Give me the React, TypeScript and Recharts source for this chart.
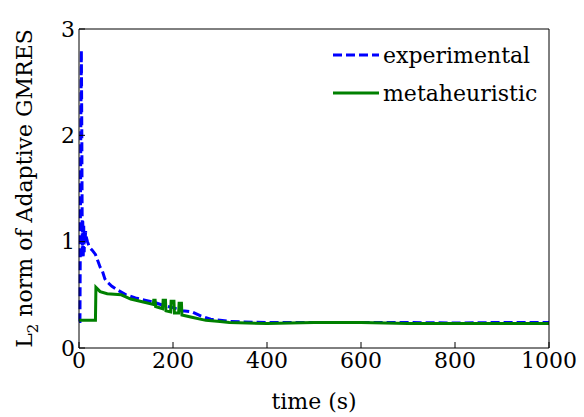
import { LineChart, Line, XAxis, YAxis } from 'recharts'

const expT = [0, 2, 3, 4, 5, 6, 7, 8, 9, 10, 11, 12, 13, 14, 15, 18, 22, 28, 35, 40, 45, 50, 55, 60, 70, 80, 100, 120, 140, 160, 180, 200, 220, 240, 260, 280, 300, 320, 350, 400, 500, 600, 700, 800, 900, 1000]
const expV = [0.25, 0.25, 1.2, 2.2, 2.8, 2.0, 0.9, 1.2, 0.85, 1.15, 0.9, 1.1, 1.0, 1.1, 1.05, 1.0, 0.95, 0.92, 0.88, 0.82, 0.76, 0.72, 0.65, 0.62, 0.58, 0.55, 0.5, 0.47, 0.45, 0.43, 0.4, 0.38, 0.35, 0.34, 0.3, 0.27, 0.26, 0.25, 0.245, 0.24, 0.24, 0.24, 0.24, 0.235, 0.24, 0.24]

const metT = [0, 35, 36, 45, 60, 90, 110, 130, 158, 159, 162, 163, 178, 179, 184, 185, 195, 196, 202, 203, 212, 213, 218, 219, 240, 270, 300, 320, 400, 500, 600, 700, 800, 1000]
const metV = [0.26, 0.26, 0.57, 0.53, 0.51, 0.5, 0.46, 0.44, 0.41, 0.45, 0.45, 0.39, 0.37, 0.45, 0.45, 0.35, 0.34, 0.44, 0.44, 0.33, 0.33, 0.42, 0.42, 0.31, 0.29, 0.26, 0.25, 0.24, 0.23, 0.24, 0.24, 0.23, 0.23, 0.23]

const xTicks = [0, 200, 400, 600, 800, 1000]
const yTicks = [0, 1, 2, 3]

const experimental = expT.map((t, i) => ({ t, v: expV[i] }))
const metaheuristic = metT.map((t, i) => ({ t, v: metV[i] }))

const FAMILY = "'DejaVu Serif', serif"
const font = { fill: '#000', fontSize: 22, fontFamily: FAMILY }

function LegendRow({ color, dash, label }: { color: string; dash?: string; label: string }) {
  return (
    <div style={{ display: 'flex', alignItems: 'center', height: 38 }}>
      <svg width={46} height={10} style={{ marginRight: 4 }}>
        <line x1={0} y1={5} x2={46} y2={5} stroke={color} strokeWidth={3} strokeDasharray={dash} />
      </svg>
      <span>{label}</span>
    </div>
  )
}

export default function App() {
  return (
    <div style={{ position: 'absolute', left: 0, top: 0, width: 584, height: 417 }}>
      <LineChart width={584} height={417} margin={{ top: 28, right: 34, bottom: 0, left: 0 }} style={{ fontFamily: FAMILY }}>
        <XAxis dataKey="t" type="number" xAxisId="b" domain={[0, 1000]} ticks={xTicks} tick={font}
          tickSize={-6} tickMargin={10} stroke="#000" allowDuplicatedCategory={false} height={69}
          label={{ value: 'time (s)', position: 'insideBottom', offset: 8, ...font }} />
        <XAxis dataKey="t" type="number" xAxisId="top" orientation="top" domain={[0, 1000]} ticks={xTicks}
          tick={false} tickSize={-6} stroke="#000" height={1} />
        <YAxis type="number" yAxisId="l" domain={[0, 3]} ticks={yTicks} tick={font} tickSize={-6} tickMargin={10}
          stroke="#000" width={79}
          label={({ viewBox }: any) => {
            const cx = 32, cy = viewBox.y + viewBox.height / 2
            return (
              <text x={cx} y={cy} transform={`rotate(-90 ${cx} ${cy})`} textAnchor="middle" fontFamily={FAMILY} fontSize={22} fill="#000">
                L<tspan fontSize={15} dy={6}>2</tspan><tspan dy={-6}> norm of Adaptive GMRES</tspan>
              </text>
            )
          }} />
        <YAxis type="number" yAxisId="r" orientation="right" domain={[0, 3]} ticks={yTicks} tick={false} tickSize={-6} stroke="#000" width={1} />
        <Line data={experimental} dataKey="v" name="experimental" xAxisId="b" yAxisId="l" type="linear"
          stroke="#0000ff" strokeWidth={3} strokeDasharray="9 4" dot={false} isAnimationActive={false} />
        <Line data={metaheuristic} dataKey="v" name="metaheuristic" xAxisId="b" yAxisId="l" type="linear"
          stroke="#008000" strokeWidth={3} dot={false} isAnimationActive={false} />
      </LineChart>
      <div style={{ position: 'absolute', left: 333, top: 36, fontFamily: FAMILY, fontSize: 22, color: '#000' }}>
        <LegendRow color="#0000ff" dash="9 4" label="experimental" />
        <LegendRow color="#008000" label="metaheuristic" />
      </div>
    </div>
  )
}
